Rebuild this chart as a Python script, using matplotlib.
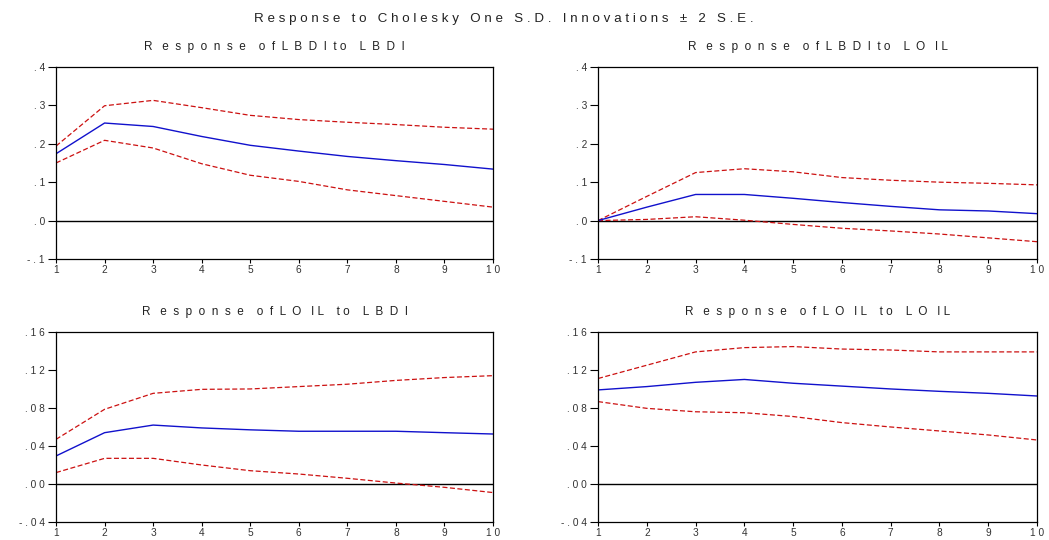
import numpy as np
import matplotlib
matplotlib.use("Agg")
import matplotlib.pyplot as plt

periods = np.arange(1, 11)

# Response of LBDI to LBDI
r11 = [0.174, 0.254, 0.245, 0.219, 0.196, 0.181, 0.167, 0.156, 0.146, 0.134]
r11_up = [0.194, 0.299, 0.313, 0.294, 0.274, 0.263, 0.256, 0.250, 0.243, 0.238]
r11_lo = [0.150, 0.209, 0.189, 0.148, 0.118, 0.102, 0.080, 0.065, 0.050, 0.035]

# Response of LBDI to LOIL
r12 = [0.0, 0.035, 0.068, 0.068, 0.058, 0.047, 0.037, 0.028, 0.025, 0.018]
r12_up = [0.0, 0.063, 0.125, 0.135, 0.127, 0.112, 0.105, 0.100, 0.097, 0.093]
r12_lo = [0.0, 0.003, 0.010, 0.001, -0.010, -0.020, -0.027, -0.035, -0.045, -0.055]

# Response of LOIL to LBDI
r21 = [0.0295, 0.054, 0.062, 0.059, 0.057, 0.0555, 0.0555, 0.0555, 0.054, 0.0526]
r21_up = [0.047, 0.0786, 0.0954, 0.0996, 0.100, 0.1025, 0.105, 0.109, 0.112, 0.114]
r21_lo = [0.012, 0.027, 0.027, 0.020, 0.014, 0.0105, 0.006, 0.001, -0.0035, -0.009]

# Response of LOIL to LOIL
r22 = [0.099, 0.1025, 0.107, 0.110, 0.106, 0.103, 0.100, 0.0975, 0.0954, 0.0926]
r22_up = [0.111, 0.125, 0.139, 0.1435, 0.1446, 0.142, 0.141, 0.139, 0.139, 0.139]
r22_lo = [0.0867, 0.0796, 0.076, 0.075, 0.071, 0.0646, 0.060, 0.0558, 0.0516, 0.0463]

titles = ["R   e  s  p  o  n  s  e    o  f  L  B  D  I  t o    L  B  D  I",
          "R   e  s  p  o  n  s  e    o  f  L  B  D  I  t o    L  O   I L",
          "R   e  s  p  o  n  s  e    o  f  L  O   I L    t o    L  B  D  I",
          "R   e  s  p  o  n  s  e    o  f  L  O   I L    t o    L  O   I L"]

top_ticks = [-0.1, 0.0, 0.1, 0.2, 0.3, 0.4]
top_labels = ["- . 1", ". 0", ". 1", ". 2", ". 3", ". 4"]
bot_ticks = [-0.04, 0.0, 0.04, 0.08, 0.12, 0.16]
bot_labels = ["- . 0 4", ". 0 0", ". 0 4", ". 0 8", ". 1 2", ". 1 6"]
x_labels = ["1", "2", "3", "4", "5", "6", "7", "8", "9", "1 0"]

plt.rcParams['font.family'] = ['Liberation Sans', 'DejaVu Sans']

fig = plt.figure(figsize=(10.49, 5.40), dpi=100)
fig.patch.set_facecolor('white')

boxes = [[0.0534, 0.5204, 0.4166, 0.3556],
         [0.5701, 0.5204, 0.4185, 0.3556],
         [0.0534, 0.0333, 0.4166, 0.3520],
         [0.5701, 0.0333, 0.4185, 0.3520]]
series = [(r11, r11_up, r11_lo), (r12, r12_up, r12_lo),
          (r21, r21_up, r21_lo), (r22, r22_up, r22_lo)]

for i in range(4):
    ax = fig.add_axes(boxes[i])
    mid, up, lo = series[i]
    ax.axhline(0, color='black', lw=1.0)
    ax.plot(periods, up, color='#cc1111', lw=0.9, ls=(0, (4, 2)))
    ax.plot(periods, lo, color='#cc1111', lw=0.9, ls=(0, (4, 2)))
    ax.plot(periods, mid, color='#1111cc', lw=1.0)
    ax.set_xlim(1, 10)
    if i < 2:
        ax.set_ylim(-0.1, 0.4)
        ax.set_yticks(top_ticks)
        ax.set_yticklabels(top_labels)
    else:
        ax.set_ylim(-0.04, 0.16)
        ax.set_yticks(bot_ticks)
        ax.set_yticklabels(bot_labels)
    ax.set_xticks(periods)
    ax.set_xticklabels(x_labels)
    ax.tick_params(axis='both', direction='out', width=0.8,
                   labelsize=7.3, labelcolor='#333333')
    ax.tick_params(axis='y', length=6, pad=2)
    ax.tick_params(axis='x', length=3, pad=1)
    ax.tick_params(top=False, right=False)
    for s in ax.spines.values():
        s.set_linewidth(0.9)
    ax.set_title(titles[i], fontsize=8.5, color='#222222', pad=12)

fig.text(0.48, 0.965, "R e s p o n s e   t o   C h o l e s k y   O n e   S . D .   I n n o v a t i o n s   ±   2   S . E .",
         ha='center', va='center', fontsize=9.6, color='#222222')

fig.savefig("out.png", dpi=100)
